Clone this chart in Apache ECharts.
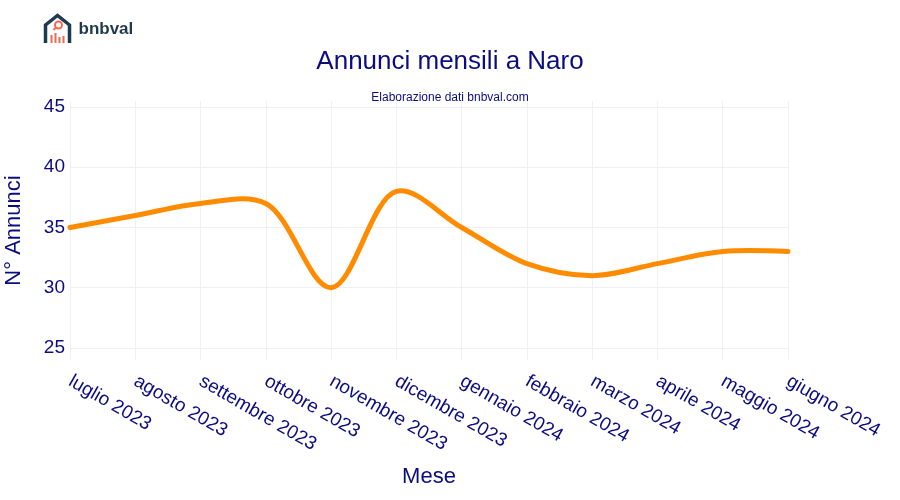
<!DOCTYPE html>
<html><head><meta charset="utf-8">
<script src="https://cdn.jsdelivr.net/npm/echarts@6/dist/echarts.min.js"></script>
<style>html,body{margin:0;padding:0;background:#fff}#c{width:900px;height:500px}</style>
</head><body><div id="c"></div>
<script>
var categories = ["luglio 2023","agosto 2023","settembre 2023","ottobre 2023","novembre 2023","dicembre 2023","gennaio 2024","febbraio 2024","marzo 2024","aprile 2024","maggio 2024","giugno 2024"];
var values = [35,36,37,37,30,38,35,32,31,32,33,33];
var yTicks = [25,30,35,40,45];

var navy = '#0c0c80';
var FONT = 'Liberation Sans, Arial, sans-serif';

// Catmull-Rom style spline (as plotly 'spline' shape) through the library's coords
function makeTangent(p0, p1, p2, s) {
  var d1x = p0[0]-p1[0], d1y = p0[1]-p1[1], d2x = p2[0]-p1[0], d2y = p2[1]-p1[1];
  var d1a = Math.pow(d1x*d1x+d1y*d1y, 0.25), d2a = Math.pow(d2x*d2x+d2y*d2y, 0.25);
  var numx = (d2a*d2a*d1x - d1a*d1a*d2x)*s, numy = (d2a*d2a*d1y - d1a*d1a*d2y)*s;
  var den1 = 3*d2a*(d1a+d2a), den2 = 3*d1a*(d1a+d2a);
  return [[p1[0]+(den1&&numx/den1), p1[1]+(den1&&numy/den1)],
          [p1[0]-(den2&&numx/den2), p1[1]-(den2&&numy/den2)]];
}
function splinePath(pts) {
  var t = [], i;
  for (i = 1; i < pts.length-1; i++) t.push(makeTangent(pts[i-1], pts[i], pts[i+1], 1));
  var d = 'M' + pts[0][0] + ' ' + pts[0][1];
  d += 'Q' + t[0][0][0] + ' ' + t[0][0][1] + ' ' + pts[1][0] + ' ' + pts[1][1];
  for (i = 2; i < pts.length-1; i++) {
    d += 'C' + t[i-2][1][0] + ' ' + t[i-2][1][1] + ' ' + t[i-1][0][0] + ' ' + t[i-1][0][1] + ' ' + pts[i][0] + ' ' + pts[i][1];
  }
  var n = pts.length;
  d += 'Q' + t[n-3][1][0] + ' ' + t[n-3][1][1] + ' ' + pts[n-1][0] + ' ' + pts[n-1][1];
  return d;
}

var chart = echarts.init(document.getElementById('c'));
chart.setOption({
  backgroundColor:'#fff',
  textStyle:{fontFamily:FONT},
  title:[
    {text:'Annunci mensili a Naro',left:'center',top:44,textStyle:{fontSize:26,fontWeight:'normal',color:navy,fontFamily:FONT}},
    {text:'Elaborazione dati bnbval.com',left:'center',top:87,textStyle:{fontSize:12,fontWeight:'normal',color:navy,fontFamily:FONT}}
  ],
  grid:{left:70,right:112,top:101,bottom:140,containLabel:false,outerBoundsMode:'none'},
  xAxis:{type:'category',data:categories,boundaryGap:false,
    axisLine:{show:false},axisTick:{show:false},
    splitLine:{show:true,lineStyle:{color:'#eef0f6',width:1}},
    axisLabel:{rotate:-30,fontSize:19,color:navy,margin:20,interval:0},
    name:'Mese',nameLocation:'middle',nameGap:106,nameTextStyle:{fontSize:22,color:navy}
  },
  yAxis:{type:'value',min:24,max:45.5,
    axisLine:{show:false},axisTick:{show:false},
    splitLine:{show:false},
    axisLabel:{show:false},
    name:'N° Annunci',nameLocation:'middle',nameGap:45,nameTextStyle:{fontSize:22,color:navy}
  },
  series:[
    {type:'line',data:values,showSymbol:false,lineStyle:{opacity:0},silent:true,z:1,
     markLine:{silent:true,symbol:'none',label:{show:true,position:'start',formatter:'{c}',fontSize:19,color:navy,distance:5},
       lineStyle:{color:'#eef0f6',width:1,type:'solid'},
       data:yTicks.map(function(v){return {yAxis:v};})}},
    {type:'custom',data:values.map(function(v,i){return [i,v];}),encode:{x:0,y:1},z:5,clip:false,
     renderItem:function(params, api){
       if (params.dataIndex !== 0) return null;
       var pts = values.map(function(v,i){ return api.coord([i, v]); });
       return {type:'path',shape:{pathData:splinePath(pts)},
               style:{stroke:'#ff8c00',lineWidth:5,fill:null,lineJoin:'round',lineCap:'round'}};
     }}
  ],
  graphic:[
    {type:'group',left:43,top:13,children:[
      {type:'polyline',shape:{points:[[2,29],[2,11],[14,1.5],[26,11],[26,29]]},style:{stroke:'#1f3a4d',lineWidth:3.5,fill:null}},
      {type:'circle',shape:{cx:15,cy:11,r:3.5},style:{stroke:'#ef6a50',lineWidth:2,fill:null}},
      {type:'line',shape:{x1:12.5,y1:13.5,x2:10,y2:16},style:{stroke:'#ef6a50',lineWidth:2}},
      {type:'rect',shape:{x:7,y:21,width:2,height:8},style:{fill:'#ef6a50'}},
      {type:'rect',shape:{x:11,y:19,width:2,height:10},style:{fill:'#ef6a50'}},
      {type:'rect',shape:{x:15,y:23,width:2,height:6},style:{fill:'#ef6a50'}},
      {type:'rect',shape:{x:19,y:22,width:2,height:7},style:{fill:'#ef6a50'}},
      {type:'text',style:{x:35,y:7,text:'bnbval',fontSize:17,fontWeight:'bold',fill:'#1f3a4d',fontFamily:FONT}}
    ]}
  ]
});
</script></body></html>
